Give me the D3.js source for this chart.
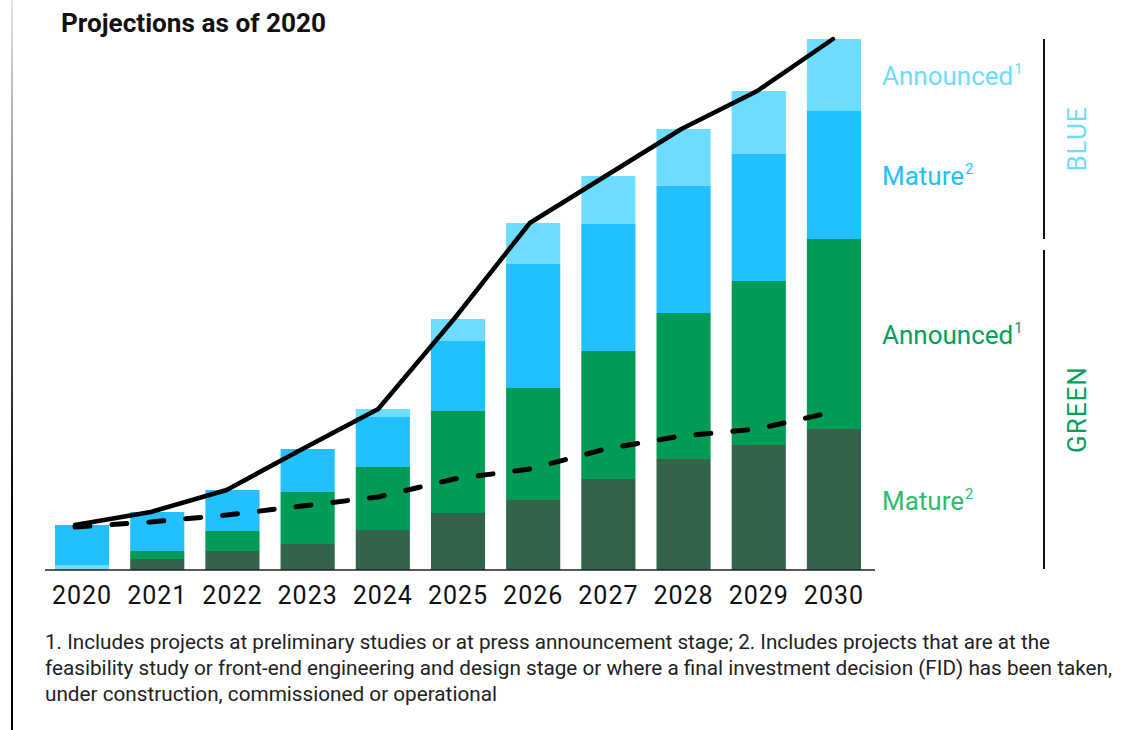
<!DOCTYPE html>
<html>
<head>
<meta charset="utf-8">
<script src="https://cdn.jsdelivr.net/npm/d3@7"></script>
<style>
  html, body { margin: 0; padding: 0; background: #fff; }
  svg { display: block; font-family: Roboto, "Noto Sans", sans-serif; }
</style>
</head>
<body>
<svg id="chart" width="1148" height="730"></svg>
<script>
// Hydrogen project pipeline, projections as of 2020
const years = ["2020", "2021", "2022", "2023", "2024", "2025", "2026", "2027", "2028", "2029", "2030"];

// Stacked segments (bottom to top)
const greenMature    = [0, 11, 19, 26, 40, 57, 70, 91, 111, 125, 141];
const greenAnnounced = [0, 8, 20, 52, 63, 102, 112, 128, 146, 164, 190];
const blueMature     = [40, 39, 41, 43, 50, 70, 124, 127, 127, 127, 128];
const blueAnnounced  = [5, 0, 0, 0, 8, 22, 41, 48, 57, 63, 72];

// Dashed trend line
const dashedLine = [43, 48, 55, 64, 73, 91, 101, 121, 134, 141, 158];

const footnotes = [
  "1. Includes projects at preliminary studies or at press announcement stage; 2. Includes projects that are at the",
  "feasibility study or front-end engineering and design stage or where a final investment decision (FID) has been taken,",
  "under construction, commissioned or operational"
];
const footnoteWidths = [1005, 1067, 452];

const series = [
  { key: "greenMature",    values: greenMature,    color: "#33634a", label: "Mature",    sup: "2", text: "#2fbd6c" },
  { key: "greenAnnounced", values: greenAnnounced, color: "#009b55", label: "Announced", sup: "1", text: "#00a058" },
  { key: "blueMature",     values: blueMature,     color: "#22c0ff", label: "Mature",    sup: "2", text: "#22c0ff" },
  { key: "blueAnnounced",  values: blueAnnounced,  color: "#6ddcff", label: "Announced", sup: "1", text: "#6ddcff" }
];
const colorOf = Object.fromEntries(series.map(s => [s.key, s.color]));
const valueOf = Object.fromEntries(series.map(s => [s.key, s.values]));

// In 2020 the announced blue volume sits at the base of the bar
const defaultOrder = ["greenMature", "greenAnnounced", "blueMature", "blueAnnounced"];
const orderFor = y => y === "2020" ? ["blueAnnounced", "greenMature", "greenAnnounced", "blueMature"] : defaultOrder;

const segments = [];
years.forEach((yr, i) => {
  let base = 0;
  orderFor(yr).forEach(k => {
    const v = valueOf[k][i];
    segments.push({ year: yr, key: k, y0: base, y1: base + v });
    base += v;
  });
});
const totals = years.map((yr, i) => d3.sum(defaultOrder, k => valueOf[k][i]));

const svg = d3.select("#chart");

// Page frame line on the left
const defs = svg.append("defs");
const grad = defs.append("linearGradient").attr("id", "frameGrad")
  .attr("x1", 0).attr("y1", 0).attr("x2", 0).attr("y2", 1);
grad.append("stop").attr("offset", "0%").attr("stop-color", "#e6e6e6");
grad.append("stop").attr("offset", "70%").attr("stop-color", "#000");
grad.append("stop").attr("offset", "100%").attr("stop-color", "#000");
svg.append("rect").attr("x", 11).attr("y", 0).attr("width", 2).attr("height", 730)
  .attr("fill", "url(#frameGrad)");

// Scales
const baseline = 570;
const x = d3.scaleBand().domain(years).range([55, 861]).paddingInner(0.28).paddingOuter(0);
const xLine = d3.scalePoint().domain(years).range([75, 833]);
const y = d3.scaleLinear().domain([0, d3.max(totals)]).range([baseline, 39]);

// Title
svg.append("text").attr("x", 61).attr("y", 32)
  .attr("font-size", 25).attr("font-weight", 700).attr("fill", "#111")
  .attr("textLength", 265).attr("lengthAdjust", "spacingAndGlyphs")
  .text("Projections as of 2020");

// Bars
svg.append("g").selectAll("rect").data(segments.filter(d => d.y1 > d.y0)).join("rect")
  .attr("x", d => x(d.year))
  .attr("width", x.bandwidth())
  .attr("y", d => y(d.y1))
  .attr("height", d => y(d.y0) - y(d.y1))
  .attr("fill", d => colorOf[d.key]);

// Axis
const xAxis = d3.axisBottom(x).tickSize(0).tickPadding(16);
const axisG = svg.append("g").attr("transform", `translate(0,${baseline})`).call(xAxis);
axisG.select(".domain").remove();
axisG.selectAll("text").attr("font-size", 25).attr("fill", "#111")
  .attr("font-family", "Roboto, sans-serif").attr("letter-spacing", 1);
svg.append("line").attr("x1", 45).attr("x2", 875).attr("y1", baseline).attr("y2", baseline)
  .attr("stroke", "#222").attr("stroke-width", 1.5);

// Lines
const lineGen = d3.line().x((d, i) => xLine(years[i])).y(d => y(d));
svg.append("path").datum(totals).attr("d", lineGen)
  .attr("fill", "none").attr("stroke", "#000").attr("stroke-width", 4.5)
  .attr("stroke-linejoin", "round").attr("stroke-linecap", "round");
svg.append("path").datum(dashedLine).attr("d", lineGen)
  .attr("fill", "none").attr("stroke", "#000").attr("stroke-width", 5)
  .attr("stroke-dasharray", "15 22").attr("stroke-linecap", "round");

// Legend labels, centred on the last bar's segments
const last = years[years.length - 1];
const lastSegs = segments.filter(d => d.year === last);
const labelX = x(last) + x.bandwidth() + 21;
series.forEach(s => {
  const seg = lastSegs.find(d => d.key === s.key);
  const cy = y((seg.y0 + seg.y1) / 2);
  const t = svg.append("text").attr("x", labelX).attr("y", cy + 10)
    .attr("font-size", 26).attr("fill", s.text);
  t.append("tspan").text(s.label);
  t.append("tspan").attr("dy", -11).attr("dx", 1).attr("font-size", 15).text(s.sup);
});

// Group brackets
const segOf = k => lastSegs.find(d => d.key === k);
const blueTop = y(segOf("blueAnnounced").y1);
const blueBottom = y(segOf("blueMature").y0);
const greenTop = y(segOf("greenAnnounced").y1) + 11;
const greenBottom = y(0) - 1;
const bracketX = 1044;
[[blueTop, blueBottom, "BLUE", "#6ddcff"], [greenTop, greenBottom, "GREEN", "#00a058"]].forEach(([t, b, lbl, c]) => {
  svg.append("line").attr("x1", bracketX).attr("x2", bracketX).attr("y1", t).attr("y2", b)
    .attr("stroke", "#111").attr("stroke-width", 2);
  const cy = (t + b) / 2;
  svg.append("text")
    .attr("transform", `translate(1086,${cy}) rotate(-90)`)
    .attr("text-anchor", "middle").attr("font-size", 26).attr("fill", c)
    .attr("letter-spacing", 1)
    .text(lbl);
});

// Footnotes
svg.append("g").selectAll("text").data(footnotes).join("text")
  .attr("x", 45).attr("y", (d, i) => 649 + i * 26)
  .attr("font-size", 19.5).attr("fill", "#222")
  .attr("textLength", (d, i) => footnoteWidths[i]).attr("lengthAdjust", "spacingAndGlyphs")
  .text(d => d);
</script>
</body>
</html>
